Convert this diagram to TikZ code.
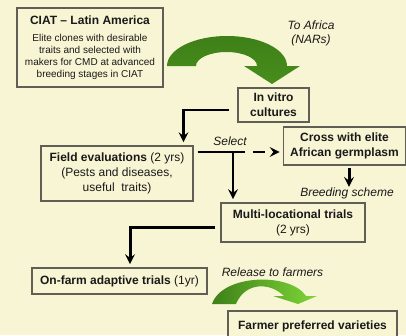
\documentclass[tikz,border=0pt]{standalone}
\usepackage{fontspec}
\setmainfont{Liberation Sans}
\usepackage{tikz}
\usetikzlibrary{positioning}

\definecolor{paper}{RGB}{248,245,212}
\definecolor{boxline}{RGB}{95,95,85}
\definecolor{ink}{RGB}{25,25,25}
\definecolor{leafdark}{RGB}{62,128,24}
\definecolor{leaflight}{RGB}{126,214,56}

\begin{document}
\begin{tikzpicture}[x=0.75pt,y=0.75pt,>=stealth,thick]
\tikzstyle{v}=[rectangle,draw=boxline,line width=0.8pt,fill=paper,text=ink,align=center,inner sep=0pt,font=\fontsize{9}{11.25}\selectfont]
\tikzstyle{lab}=[text=ink,align=center,inner sep=0pt,font=\fontsize{9}{10.5}\selectfont\itshape]
\tikzstyle{wire}=[line width=2.2pt,black]
\tikzstyle{conn}=[wire,->,shorten >=2.5pt]
\useasboundingbox (0,0) rectangle (406,-335);
\clip (0,0) rectangle (406,-335);
\fill[paper] (0,0) rectangle (406,-335);
% boxes
\node[v, minimum width=109.5pt, minimum height=59.25pt, font=\fontsize{7.5}{9}\selectfont] (ciat) at (90,-47.5)
  {\fontsize{9}{11}\selectfont\textbf{CIAT -- Latin America}\\[4pt]Elite clones with desirable\\traits and selected with\\makers for CMD at advanced\\breeding stages in CIAT};
\node[v, minimum width=53.25pt, minimum height=25.5pt] (vitro) at (273.5,-105) {\textbf{In vitro}\\\textbf{cultures}};
\node[v, minimum width=91.5pt, minimum height=28.5pt] (cross) at (344.5,-146) {\textbf{Cross with elite}\\\textbf{African germplasm}};
\node[v, minimum width=114pt, minimum height=41.25pt] (field) at (117,-173.5) {\textbf{Field evaluations} (2 yrs)\\(Pests and diseases,\\useful~ traits)};
\node[v, minimum width=108pt, minimum height=29.25pt] (multi) at (293,-222.5) {\textbf{Multi-locational trials}\\(2 yrs)};
\node[v, minimum width=131.25pt, minimum height=19.5pt] (onfarm) at (119.5,-281) {\textbf{On-farm adaptive trials} (1yr)};
\node[v, minimum width=126.75pt, minimum height=23.25pt] (farmer) at (312.5,-326.5) {\textbf{Farmer preferred varieties}};
% labels
\node[lab] (africa) at (311,-33) {To Africa\\(NARs)};
\node[lab] (select) at (230,-141) {Select};
\node[lab] (scheme) at (347,-193) {Breeding scheme};
\node[lab] (release) at (272.5,-272) {Release to farmers};
% green arrows
\shade[top color=leafdark, middle color=leaflight, bottom color=leafdark!85!leaflight]
  (167,-66) arc[start angle=180, end angle=0, x radius=60, y radius=30]
  -- (300,-66) -- (272,-84) -- (244,-66) -- (257,-66)
  arc[start angle=0, end angle=180, x radius=30.5, y radius=14] -- cycle;
\shade[left color=leafdark, right color=leaflight]
  (212,-304) .. controls (222,-274) and (290,-272) .. (306,-296)
  -- (317,-296) -- (298,-304) -- (273,-296) -- (284,-296)
  .. controls (270,-282) and (245,-282) .. (236,-304) -- cycle;
% connectors
\coordinate (fork) at (233,-152);
\draw[conn] ([xshift=-6pt,yshift=-3.75pt]vitro.west) -| ([xshift=-7.5pt]field.north east);
\draw[wire] ([xshift=3pt]field.east |- fork) -- (fork);
\draw[conn] (fork) -- (fork |- multi.north);
\draw[conn, dash pattern=on 9pt off 6pt] (fork) -- (fork -| cross.west);
\draw[conn, shorten <=2pt, shorten >=0pt] ([xshift=3.4pt]cross.south) -- ([xshift=3.4pt]cross.south |- scheme.north);
\draw[conn] ([xshift=-3.75pt,yshift=-4pt]multi.west) -| ([xshift=7.9pt]onfarm.north);
\end{tikzpicture}
\end{document}
